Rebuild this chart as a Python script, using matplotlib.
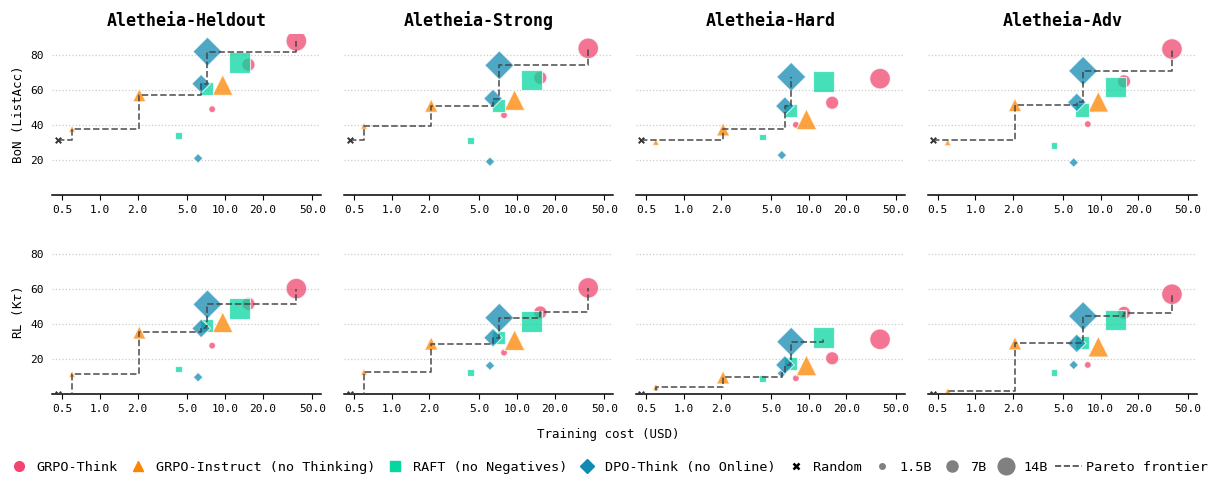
import numpy as np
import matplotlib
matplotlib.use('Agg')
import matplotlib.pyplot as plt
from matplotlib.lines import Line2D
from matplotlib.ticker import NullLocator

plt.rcParams['font.family'] = ['DejaVu Sans Mono', 'DejaVu Sans']

# benchmarks / methods
benchmarks = ['Aletheia-Heldout', 'Aletheia-Strong', 'Aletheia-Hard', 'Aletheia-Adv']
methods = ['GRPO-Think', 'GRPO-Instruct (no Thinking)', 'RAFT (no Negatives)', 'DPO-Think (no Online)']
model_sizes = ['1.5B', '7B', '14B']

# training cost (USD) per method, [1.5B, 7B, 14B]
cost_grpo_think = [7.9, 15.4, 37.2]
cost_grpo_instruct = [0.6, 2.07, 9.6]
cost_raft = [4.25, 7.1, 13.1]
cost_dpo = [6.1, 6.45, 7.25]
cost_random = 0.46

# BoN (ListAcc), one row per benchmark, [1.5B, 7B, 14B]
bon_grpo_think = [[49.1, 74.5, 88.0], [45.7, 67.0, 83.8], [40.2, 52.8, 66.5], [40.6, 65.0, 83.4]]
bon_grpo_instruct = [[37.9, 57.1, 62.9], [39.6, 51.1, 54.3], [30.4, 37.6, 43.3], [30.2, 51.5, 53.3]]
bon_raft = [[34.3, 61.0, 75.6], [31.4, 51.4, 65.7], [33.3, 48.4, 65.0], [28.6, 48.6, 61.7]]
bon_dpo = [[21.1, 63.6, 81.9], [19.2, 55.2, 74.1], [22.9, 50.9, 67.5], [18.7, 53.0, 70.9]]
bon_random = [31.5, 31.5, 31.5, 31.5]

# RL (K tau)
rl_grpo_think = [[27.5, 51.3, 60.0], [23.5, 46.4, 60.4], [8.9, 20.3, 31.1], [16.5, 46.2, 56.8]]
rl_grpo_instruct = [[11.3, 35.0, 40.8], [12.5, 28.7, 30.6], [3.9, 9.4, 16.2], [1.6, 28.8, 26.9]]
rl_raft = [[14.2, 38.8, 48.7], [12.1, 32.0, 41.1], [8.9, 17.4, 32.0], [12.1, 29.4, 42.0]]
rl_dpo = [[9.5, 37.3, 51.0], [16.1, 32.0, 43.4], [11.7, 16.5, 29.7], [16.5, 28.8, 44.3]]
rl_random = [0.0, 0.0, 0.0, 0.0]

xticks = [0.5, 1.0, 2.0, 5.0, 10.0, 20.0, 50.0]
yticks = [20, 40, 60, 80]

colors = ['#EF476F', '#FB8500', '#06D6A0', '#118AB2']
markers = ['o', '^', 's', 'D']
sizes = [24, 90, 220]

costs = [cost_grpo_think, cost_grpo_instruct, cost_raft, cost_dpo]
rows = [
    ('BoN (ListAcc)', [bon_grpo_think, bon_grpo_instruct, bon_raft, bon_dpo], bon_random),
    ('RL (K$\\tau$)', [rl_grpo_think, rl_grpo_instruct, rl_raft, rl_dpo], rl_random),
]


def pareto(xs, ys):
    order = np.argsort(xs)
    fx, fy = [], []
    best = -np.inf
    for i in order:
        if ys[i] > best:
            best = ys[i]
            fx.append(xs[i])
            fy.append(ys[i])
    return fx, fy


fig, axes = plt.subplots(2, 4, figsize=(12.16, 4.78), dpi=100)
fig.subplots_adjust(left=0.0428, right=0.9844, top=0.929, bottom=0.176,
                    wspace=0.0835, hspace=0.23)

for r, (ylabel, method_vals, random_vals) in enumerate(rows):
    for c, bench in enumerate(benchmarks):
        ax = axes[r, c]
        all_x, all_y = [cost_random], [random_vals[c]]
        for m in range(4):
            vals = method_vals[m][c]
            ax.scatter(costs[m], vals, s=sizes, marker=markers[m], color=colors[m],
                       alpha=0.75, edgecolor='white', linewidth=0.8, zorder=2)
            all_x += costs[m]
            all_y += vals
        ax.scatter([cost_random], [random_vals[c]], marker='x', s=16, color='#333333',
                   linewidth=1.4, zorder=3)

        # pareto frontier over all models + random
        fx, fy = pareto(np.array(all_x), np.array(all_y))
        ax.plot(fx, fy, drawstyle='steps-post', ls='--', color='#444444', lw=1.25,
                alpha=0.85, zorder=4)

        ax.set_xscale('log')
        ax.set_xlim(0.415, 59)
        ax.set_ylim(0, 92)
        ax.set_xticks(xticks)
        ax.set_xticklabels([f'{t:.1f}' for t in xticks])
        ax.xaxis.set_minor_locator(NullLocator())
        ax.set_yticks(yticks)
        ax.grid(axis='y', ls=':', color='#cccccc', lw=0.9)
        ax.set_axisbelow(True)
        for s in ['left', 'top', 'right']:
            ax.spines[s].set_visible(False)
        ax.spines['bottom'].set_linewidth(1.1)
        ax.tick_params(axis='y', length=0, pad=6, labelsize=8)
        ax.tick_params(axis='x', labelsize=8)
        if c == 0:
            ax.set_ylabel(ylabel, fontsize=9)
        else:
            ax.set_yticklabels([])
        if r == 0:
            ax.set_title(bench, fontsize=12, fontweight='bold')

fig.text(0.5, 0.092, 'Training cost (USD)', ha='center', va='center', fontsize=9)

handles = [Line2D([], [], marker=markers[m], color=colors[m], ls='none', markersize=7)
           for m in range(4)]
handles.append(Line2D([], [], marker='x', color='black', ls='none', markersize=5,
                      markeredgewidth=1.8))
for ms in [4, 8, 12]:
    handles.append(Line2D([], [], marker='o', color='gray', ls='none', markersize=ms))
handles.append(Line2D([], [], color='#444444', ls='--', lw=1.2))
labels = methods + ['Random'] + model_sizes + ['Pareto frontier']

fig.legend(handles, labels, loc='center', bbox_to_anchor=(0.499, 0.023), ncol=9,
           frameon=False, fontsize=9.7, handlelength=2.0, handletextpad=0.3,
           columnspacing=0.5)

fig.savefig('out.png', dpi=100)
